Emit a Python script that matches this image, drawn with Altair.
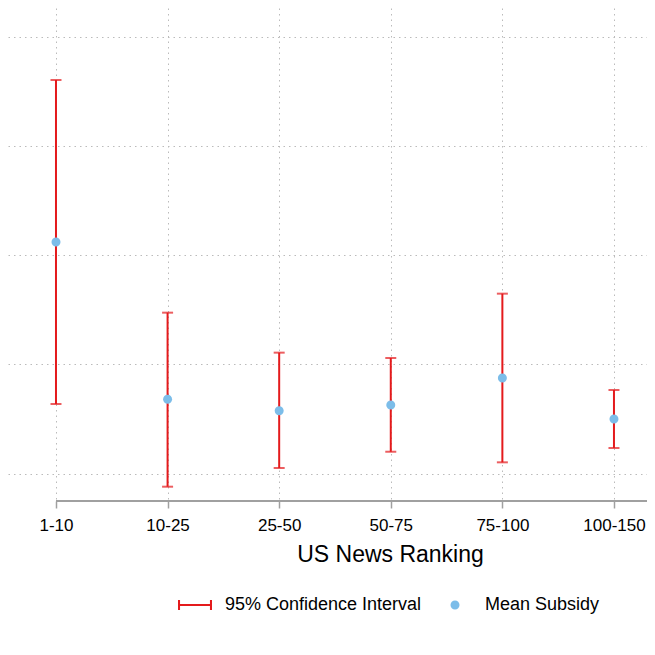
import altair as alt
import pandas as pd

categories = ["1-10", "10-25", "25-50", "50-75", "75-100", "100-150"]
means = [2.121, 0.681, 0.577, 0.629, 0.876, 0.501]
lowers = [0.638, -0.119, 0.052, 0.201, 0.104, 0.235]
uppers = [3.604, 1.474, 1.108, 1.059, 1.648, 0.766]
series = ["95% Confidence Interval", "Mean Subsidy"]

RED = "#e41a1c"
BLUE = "#7cbde9"
FONT = "Liberation Sans"

df = pd.DataFrame({
    "idx": list(range(1, len(categories) + 1)),
    "cat": categories,
    "mean": means,
    "lo": lowers,
    "hi": uppers,
})
df["ms"] = series[1]

XMIN, XMAX = 0.570, 6.296
YMIN, YMAX = -0.25, 4.263
W, H = 639, 493

label_expr = "[" + ",".join("'%s'" % c for c in categories) + "][datum.value - 1]"

xscale = alt.Scale(domain=[XMIN, XMAX], nice=False, zero=False)
yscale = alt.Scale(domain=[YMIN, YMAX], nice=False, zero=False)

xaxis = alt.Axis(
    values=list(range(1, len(categories) + 1)), labelExpr=label_expr,
    title="US News Ranking", titleFontSize=23, titleFontWeight="normal",
    titleFont=FONT, titleColor="black", titleX=382, titleY=53,
    titleAlign="center", titleBaseline="middle",
    labelFont=FONT, labelFontSize=17, labelColor="black", labelPadding=9,
    domain=False, tickColor="#a0a0a0", tickWidth=1.5, tickSize=7,
    grid=True, gridColor="#bbbbbb", gridDash=[1.5, 4], gridWidth=1,
)
yaxis = alt.Axis(
    values=[0, 1, 2, 3, 4], labels=False, ticks=False, domain=False, title=None,
    grid=True, gridColor="#bbbbbb", gridDash=[1.5, 4], gridWidth=1,
)

BAR_PATH = "M-1,-0.3H-0.88V-0.06H0.88V-0.3H1V0.3H0.88V0.06H-0.88V0.3H-1Z"
DOT_PATH = "M0.265,0A0.265,0.265,0,1,1,-0.265,0A0.265,0.265,0,1,1,0.265,0Z"

legend = alt.Legend(
    title=None, orient="none", legendX=170, legendY=580, direction="horizontal",
    columns=2, columnPadding=16, labelFont=FONT, labelFontSize=18,
    labelColor="black", labelOffset=13, labelLimit=400,
    symbolSize=1156, symbolStrokeWidth=0, symbolOpacity=1,
)

base = alt.Chart(df)

axis_line = base.mark_rule(color="#a0a0a0", strokeWidth=1.5).encode(
    x=alt.datum(1, scale=xscale, axis=xaxis),
    x2=alt.datum(XMAX),
    y=alt.value(H),
)

rules = base.mark_rule(strokeWidth=2, color=RED).encode(
    x=alt.X("idx:Q", scale=xscale, axis=xaxis),
    y=alt.Y("lo:Q", scale=yscale, axis=yaxis),
    y2="hi:Q",
)
caps_hi = base.mark_tick(orient="horizontal", size=11, thickness=2, color=RED).encode(
    x=alt.X("idx:Q", scale=xscale, axis=xaxis),
    y=alt.Y("hi:Q", scale=yscale, axis=yaxis),
)
caps_lo = base.mark_tick(orient="horizontal", size=11, thickness=2, color=RED).encode(
    x=alt.X("idx:Q", scale=xscale, axis=xaxis),
    y=alt.Y("lo:Q", scale=yscale, axis=yaxis),
)
points = base.mark_point(filled=True, size=1156, opacity=1).encode(
    x=alt.X("idx:Q", scale=xscale, axis=xaxis),
    y=alt.Y("mean:Q", scale=yscale, axis=yaxis),
    color=alt.Color("ms:N", scale=alt.Scale(domain=series, range=[RED, BLUE]), legend=legend),
    shape=alt.Shape("ms:N", scale=alt.Scale(domain=series, range=[BAR_PATH, DOT_PATH]), legend=legend),
)

chart = alt.layer(axis_line, rules, caps_hi, caps_lo, points).properties(
    width=W, height=H,
    autosize=alt.AutoSizeParams(type="none"),
    padding={"left": 0, "top": 0, "right": 0, "bottom": 140},
    background="white",
).configure_view(stroke=None)

chart.save("out.html", embed_options={"renderer": "svg", "actions": False})
